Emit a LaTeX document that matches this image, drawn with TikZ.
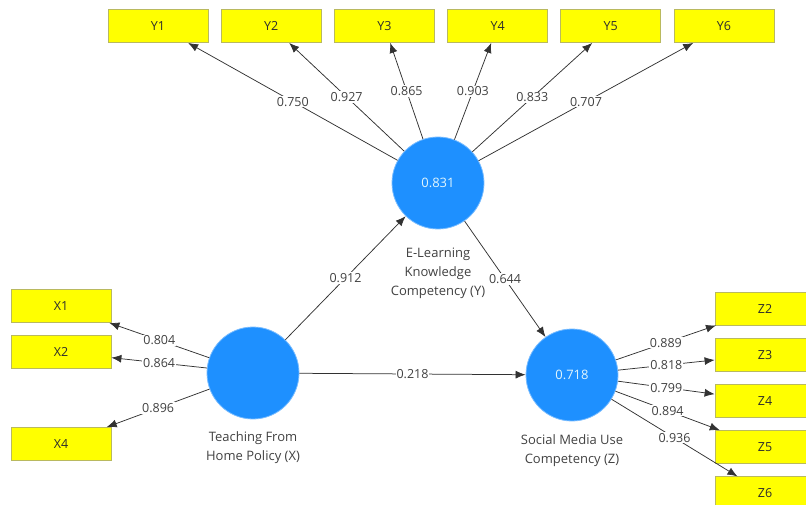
\documentclass[tikz,border=0pt]{standalone}
\usepackage{fontspec}
\setmainfont{Open Sans}
\usepackage{tikz}
\usetikzlibrary{arrows.meta,positioning}

\definecolor{latblue}{RGB}{30,144,255}
\definecolor{indyel}{RGB}{255,255,0}
\definecolor{indedge}{RGB}{185,185,95}
\definecolor{edgegray}{RGB}{50,50,50}
\definecolor{txtgray}{RGB}{65,65,65}

\begin{document}
\begin{tikzpicture}[x=1pt, y=-1pt,
  node distance=12.4pt and 12.4pt,
  ind/.style={draw=indedge, fill=indyel, line width=0.8pt, inner sep=0pt,
              minimum width=100pt, minimum height=33pt,
              font=\fontsize{12.5}{14}\selectfont, text=txtgray!70!black},
  lat/.style={circle, fill=latblue, draw=latblue!60!white, line width=0.8pt,
              minimum size=92pt, inner sep=0pt,
              font=\fontsize{13}{15}\selectfont, text=cyan!12!white},
  latname/.style={align=center, font=\fontsize{13}{19}\selectfont, text=txtgray},
  arr/.style={-{Latex[length=10pt,width=8pt]}, draw=edgegray, line width=0.75pt},
  coef/.style={fill=white, inner sep=1pt, font=\fontsize{12.5}{14}\selectfont, text=txtgray},
]
\useasboundingbox (0,0) rectangle (806,505);
\clip (0,0) rectangle (806,505);

% latent variables
\node[lat] (X) at (253,373) {};
\node[lat] (Y) at (438,183) {0.831};
\node[lat] (Z) at (572,375) {0.718};
\node[latname, below=9pt of X] (xn) {Teaching From\\Home Policy (X)};
\node[latname, below=15pt of Y] (yn) {E-Learning\\Knowledge\\Competency (Y)};
\node[latname, below=10pt of Z] (zn) {Social Media Use\\Competency (Z)};

% indicators of Y
\node[ind] (y1) at (158,26) {Y1};
\node[ind, right=of y1] (y2) {Y2};
\node[ind, right=of y2] (y3) {Y3};
\node[ind, right=of y3] (y4) {Y4};
\node[ind, right=of y4] (y5) {Y5};
\node[ind, right=of y5] (y6) {Y6};

% indicators of X
\node[ind] (x1) at (61,306) {X1};
\node[ind, below=of x1] (x2) {X2};
\node[ind, below=58pt of x2] (x4) {X4};

% indicators of Z
\node[ind] (z2) at (765,308.5) {Z2};
\node[ind, below=of z2] (z3) {Z3};
\node[ind, below=of z3] (z4) {Z4};
\node[ind, below=of z4] (z5) {Z5};
\node[ind, below=of z5] (z6) {Z6};

% outer loadings
\draw[arr] (Y) -- node[coef]{0.750} (y1);
\draw[arr] (Y) -- node[coef]{0.927} (y2);
\draw[arr] (Y) -- node[coef]{0.865} (y3);
\draw[arr] (Y) -- node[coef]{0.903} (y4);
\draw[arr] (Y) -- node[coef]{0.833} (y5);
\draw[arr] (Y) -- node[coef]{0.707} (y6);
\draw[arr] (X) -- node[coef]{0.804} (x1);
\draw[arr] (X) -- node[coef]{0.864} (x2);
\draw[arr] (X) -- node[coef]{0.896} (x4);
\draw[arr] (Z) -- node[coef]{0.889} (z2);
\draw[arr] (Z) -- node[coef]{0.818} (z3);
\draw[arr] (Z) -- node[coef]{0.799} (z4);
\draw[arr] (Z) -- node[coef]{0.894} (z5);
\draw[arr] (Z) -- node[coef]{0.936} (z6);

% path coefficients
\draw[arr] (X) -- node[coef]{0.912} (Y);
\draw[arr] (Y) -- node[coef]{0.644} (Z);
\draw[arr] (X) -- node[coef]{0.218} (Z);
\end{tikzpicture}
\end{document}
